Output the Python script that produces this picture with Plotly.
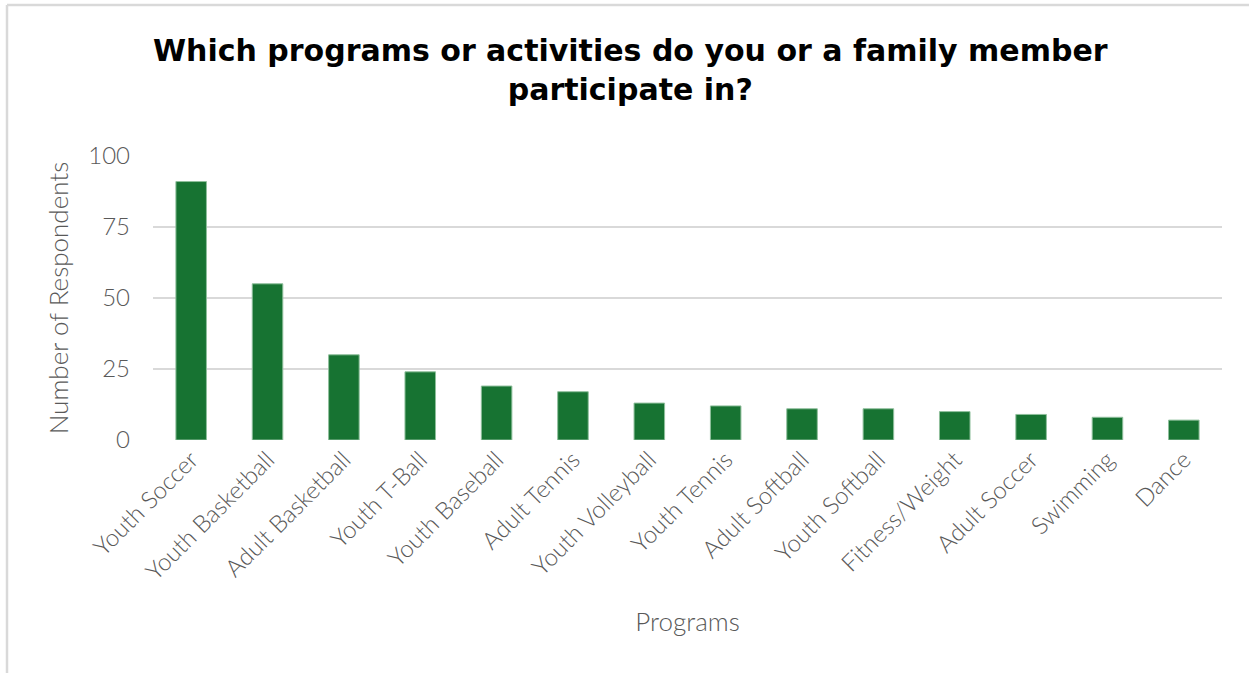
import plotly.graph_objects as go

# Survey responses: number of respondents per program
programs = [
    "Youth Soccer", "Youth Basketball", "Adult Basketball", "Youth T-Ball",
    "Youth Baseball", "Adult Tennis", "Youth Volleyball", "Youth Tennis",
    "Adult Softball", "Youth Softball", "Fitness/Weight", "Adult Soccer",
    "Swimming", "Dance",
]
respondents = [91, 55, 30, 24, 19, 17, 13, 12, 11, 11, 10, 9, 8, 7]
y_ticks = [0, 25, 50, 75, 100]
title_text = "Which programs or activities do you or a family member<br>participate in?"

W, H = 1249, 673
L, R, T, B = 153, 27, 156, 233
pw, ph = W - L - R, H - T - B

TEXT = "#595959"
FONT = "Lato"


def px_x(p):
    return (p - L) / pw


def px_y(p):
    return (H - B - p) / ph


fig = go.Figure(
    go.Bar(
        x=programs,
        y=respondents,
        marker=dict(color="#177332", line=dict(color="#8fbf9c", width=1)),
        width=0.4,
        hoverinfo="x+y",
    )
)

# light frame along the top and left edges of the chart
frame = dict(type="line", xref="paper", yref="paper",
             line=dict(color="#d9d9d9", width=2.5))
fig.add_shape(**frame, x0=px_x(7), x1=px_x(1252), y0=px_y(5), y1=px_y(5))
fig.add_shape(**frame, x0=px_x(7), x1=px_x(7), y0=px_y(5), y1=px_y(676))

# bold two-line title
fig.add_annotation(
    text=title_text, xref="paper", yref="paper",
    x=px_x(630), y=px_y(70), xanchor="center", yanchor="middle",
    showarrow=False, align="center",
    font=dict(family="DejaVu Sans", size=30, color="#000000", weight="bold"),
)

fig.update_layout(
    width=W,
    height=H,
    margin=dict(l=L, r=R, t=T, b=B),
    paper_bgcolor="white",
    plot_bgcolor="white",
    showlegend=False,
    font=dict(family=FONT, color=TEXT),
    xaxis=dict(
        tickangle=-45,
        tickfont=dict(family=FONT, size=24, color=TEXT, weight=300),
        showgrid=False,
        showline=False,
        ticks="",
        title=dict(text="Programs", standoff=28,
                   font=dict(family=FONT, size=26, color=TEXT, weight=300)),
        automargin=False,
    ),
    yaxis=dict(
        range=[0, 100],
        tickvals=y_ticks,
        tickfont=dict(family=FONT, size=24, color=TEXT, weight=300),
        showgrid=True,
        gridcolor="#d9d9d9",
        gridwidth=2,
        zeroline=False,
        showline=False,
        ticks="",
        ticklabelstandoff=22,
        title=dict(text="Number of Respondents", standoff=12,
                   font=dict(family=FONT, size=26, color=TEXT, weight=300)),
        automargin=False,
    ),
)

fig.write_html("out.html")
